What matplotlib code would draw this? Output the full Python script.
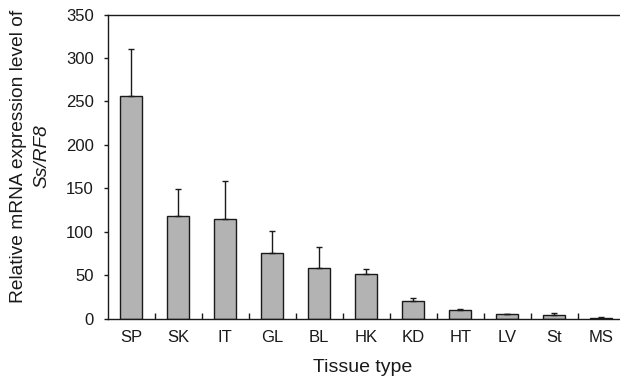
import matplotlib
matplotlib.use("Agg")
import matplotlib.pyplot as plt
import numpy as np

plt.rcParams['font.family'] = ['Liberation Sans', 'DejaVu Sans']

tissues = ['SP', 'SK', 'IT', 'GL', 'BL', 'HK', 'KD', 'HT', 'LV', 'St', 'MS']
expr = [256, 118.5, 114, 75.5, 58, 51, 20.5, 9.8, 4.8, 4.0, 1.0]
err_up = [54, 30.5, 44.5, 25, 24.5, 6.5, 2.7, 0.7, 0.7, 2.3, 0.5]

fig = plt.figure(figsize=(6.2, 3.8), dpi=100)
ax = fig.add_axes([0.1737, 0.1618, 0.834, 0.80])

x = np.arange(len(tissues))
ax.bar(x, expr, width=0.46, color='#b3b3b3', edgecolor='#1a1a1a', linewidth=1.0, zorder=2)
ax.errorbar(x, expr, yerr=[np.zeros(len(expr)), err_up], fmt='none',
            ecolor='#1a1a1a', elinewidth=1.0, capsize=2.2, capthick=1.0, zorder=3)

ax.set_xlim(-0.5, len(tissues) - 0.5)
ax.set_ylim(0, 350)
ax.set_yticks(np.arange(0, 351, 50))
ax.set_xticks(x)
ax.set_xticklabels(tissues)
ax.set_xticks(np.arange(0.5, len(tissues) - 0.5, 1), minor=True)
ax.tick_params(axis='x', which='major', length=0, pad=8, labelsize=12, colors='#1a1a1a')
ax.tick_params(axis='x', which='minor', direction='in', length=4, width=1.0, color='#1a1a1a')
ax.tick_params(axis='y', direction='out', length=3, width=1.0, pad=7, labelsize=12, colors='#1a1a1a')

for s in ['left', 'bottom', 'top']:
    ax.spines[s].set_linewidth(1.0)
    ax.spines[s].set_color('#1a1a1a')
ax.spines['right'].set_visible(False)

fig.text(0.585, 0.034, 'Tissue type', ha='center', va='center', fontsize=14, color='#1a1a1a')
fig.text(0.030, 0.589, 'Relative mRNA expression level of', rotation=90,
         ha='center', va='center', fontsize=13.8, color='#1a1a1a')
fig.text(0.068, 0.589, 'Ss/RF8', rotation=90, style='italic',
         ha='center', va='center', fontsize=13.8, color='#1a1a1a')

fig.savefig('out.png', dpi=100)
